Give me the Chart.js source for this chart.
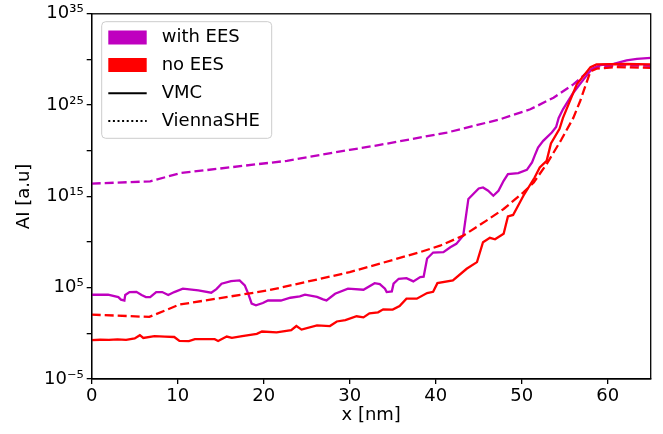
<!DOCTYPE html>
<html><head><meta charset="utf-8">
<script src="https://cdn.jsdelivr.net/npm/chart.js@4.4.1/dist/chart.umd.min.js"></script>
<style>html,body{margin:0;padding:0;background:#fff}#wrap{width:663px;height:434px;position:relative}</style>
</head><body><div id="wrap"><canvas id="c" width="663" height="434"></canvas></div>
<script>
// ---- data (y values are given as log10 exponents) ----
const xTicks = [0, 10, 20, 30, 40, 50, 60];
const yTicks = [1e-5, 1e0, 1e5, 1e10, 1e15, 1e20, 1e25, 1e30, 1e35];
const yTickLabels = ['10⁻⁵', '', '10⁵', '', '10¹⁵', '', '10²⁵', '', '10³⁵'];

const withVmcX = [0,1.9,3.1,3.4,3.8,3.9,4.4,5.2,5.8,6.3,6.8,7.5,8.2,8.9,9.6,10.6,12.4,13.9,14.5,15.1,16.2,17.2,17.8,18.2,18.6,19.1,19.9,20.5,22,23.1,24.2,24.8,26.2,26.9,27.3,28.3,29.8,31.6,32.9,33.5,34.1,34.3,34.9,35.1,35.7,36.6,37.4,38.2,38.6,39.0,39.7,40.9,41.7,42.4,43.2,43.8,45.0,45.5,46.1,46.7,47.3,47.9,48.4,49.6,50.6,51.2,51.5,51.9,52.5,53.5,54.0,54.3,54.8,56.0,57.2,58.1,59.1,60.7,62.2,63.4,65];
const withVmcLog = [4.23,4.23,3.97,3.69,3.6,4.2,4.52,4.55,4.2,3.97,3.97,4.52,4.52,4.2,4.52,4.89,4.7,4.45,4.85,5.44,5.72,5.8,5.25,4.34,3.25,3.07,3.32,3.61,3.6,3.9,4.05,4.23,4.0,3.72,3.61,4.34,4.89,4.78,5.5,5.4,4.89,4.52,4.6,5.44,5.98,6.05,5.69,6.16,6.2,8.2,8.85,8.89,9.43,9.8,10.71,14.72,15.87,15.98,15.62,15.07,15.62,16.71,17.44,17.55,17.91,18.71,19.44,20.35,21.08,22.0,22.6,23.6,24.54,26.35,27.82,28.9,29.38,29.52,29.89,30.07,30.17];

const withSheX = [0,6.8,10.3,22.7,30,33.5,41.3,47.5,51,53.7,56,58,59,62,65];
const withSheLog = [16.4,16.65,17.55,18.9,20.1,20.64,21.99,23.45,24.54,25.81,27.27,28.9,29.25,29.35,29.3];

const noVmcX = [0,1,2,3,4,5,5.6,6.0,7.3,8.5,9.6,10.2,11.3,12.0,14.3,14.7,15.7,16.3,17.5,19.2,19.8,21.5,23.2,23.8,24.4,26.2,27.7,28.5,29.5,30.8,31.6,32.3,33.3,33.9,35.0,35.8,36.6,37.8,39.0,39.7,40.2,42.0,43.6,44.8,45.5,46.3,46.9,47.9,48.4,49.0,50.2,51.5,52.1,52.9,53.4,54.4,54.8,56.4,58.0,58.7,62,65];
const noVmcLog = [-0.75,-0.7,-0.72,-0.65,-0.72,-0.55,-0.2,-0.5,-0.3,-0.35,-0.4,-0.83,-0.85,-0.64,-0.64,-0.83,-0.35,-0.5,-0.3,-0.05,0.2,0.1,0.34,0.8,0.41,0.88,0.8,1.3,1.45,1.87,1.75,2.2,2.3,2.63,2.6,3.0,3.8,3.8,4.41,4.55,5.5,5.8,7.07,7.8,9.98,10.46,10.3,10.9,12.8,12.97,15.07,17.07,18.17,18.9,20.8,22.4,23.6,27.27,29.16,29.45,29.5,29.45];

const noSheX = [0,6.7,10.2,20.5,30,38.2,40.5,43.2,45.9,47.9,50.2,51.4,52.9,54.6,56,56.8,58,58.7,61,65];
const noSheLog = [2.05,1.8,3.15,4.7,6.7,8.9,9.6,10.7,12.35,13.62,15.44,16.53,18.54,21.2,23.6,25.45,28.7,29.0,29.15,29.08];

const legendLabels = ['with EES', 'no EES', 'VMC', 'ViennaSHE'];
const colWith = '#bf00bf';
const colNo = '#ff0000';

const toPts = (xs, ls) => xs.map((x, i) => ({ x: x, y: Math.pow(10, ls[i]) }));
const FONT = 'DejaVu Sans';

const boxPlugin = {
  id: 'box',
  afterDraw(chart) {
    const { ctx, chartArea: a } = chart;
    ctx.save();
    ctx.strokeStyle = '#000';
    ctx.lineWidth = 1.3;
    ctx.strokeRect(a.left, a.top, a.right - a.left, a.bottom - a.top);
    // legend
    const lx = 101.7, ly = 21.7, lw = 170, lh = 116.6, r = 4;
    ctx.beginPath();
    ctx.roundRect(lx, ly, lw, lh, r);
    ctx.fillStyle = 'rgba(255,255,255,0.8)';
    ctx.fill();
    ctx.strokeStyle = '#cccccc';
    ctx.lineWidth = 1;
    ctx.stroke();
    const rows = [37.5, 65, 93.3, 121];
    ctx.fillStyle = colWith;
    ctx.fillRect(108.3, rows[0] - 7, 38.4, 14);
    ctx.fillStyle = colNo;
    ctx.fillRect(108.3, rows[1] - 7, 38.4, 14);
    ctx.strokeStyle = '#000';
    ctx.lineWidth = 2;
    ctx.beginPath(); ctx.moveTo(108.3, rows[2]); ctx.lineTo(146.7, rows[2]); ctx.stroke();
    ctx.setLineDash([2, 2.6]);
    ctx.beginPath(); ctx.moveTo(108.3, rows[3]); ctx.lineTo(146.7, rows[3]); ctx.stroke();
    ctx.setLineDash([]);
    ctx.fillStyle = '#000';
    ctx.font = '18px "' + FONT + '"';
    ctx.textBaseline = 'middle';
    ctx.textAlign = 'left';
    legendLabels.forEach((t, i) => ctx.fillText(t, 161.7, rows[i]));
    ctx.restore();
  }
};

const ds = (label, pts, color, dash) => ({
  label, data: pts, borderColor: color, backgroundColor: color,
  borderWidth: 2.3, borderDash: dash, pointRadius: 0, tension: 0, fill: false
});

new Chart(document.getElementById('c'), {
  type: 'line',
  data: {
    datasets: [
      ds('no EES ViennaSHE', toPts(noSheX, noSheLog), colNo, [9, 4]),
      ds('no EES VMC', toPts(noVmcX, noVmcLog), colNo, []),
      ds('with EES ViennaSHE', toPts(withSheX, withSheLog), colWith, [9, 4]),
      ds('with EES VMC', toPts(withVmcX, withVmcLog), colWith, [])
    ]
  },
  options: {
    responsive: false, animation: false, devicePixelRatio: 1,
    layout: { padding: { left: 0, right: 12.3, top: 12.5, bottom: 0 } },
    plugins: { legend: { display: false }, tooltip: { enabled: false } },
    scales: {
      x: {
        type: 'linear', min: 0, max: 65,
        afterBuildTicks: s => { s.ticks = xTicks.map(v => ({ value: v })); },
        afterFit: s => { s.height = 55; },
        ticks: { color: '#000', font: { size: 18, family: FONT }, padding: 2, maxRotation: 0, autoSkip: false },
        grid: { drawOnChartArea: false, tickLength: 5, color: '#000', tickColor: '#000', lineWidth: 1.3 },
        border: { color: '#000', width: 1.3 },
        title: { display: true, text: 'x [nm]', color: '#000', font: { size: 18, family: FONT }, padding: { top: 0, bottom: 8 } }
      },
      y: {
        type: 'logarithmic', min: 1e-5, max: 1e35,
        afterBuildTicks: s => { s.ticks = yTicks.map(v => ({ value: v })); },
        afterFit: s => { s.width = 91.7; },
        ticks: { color: '#000', font: { size: 18, family: FONT }, padding: 3, autoSkip: false,
          callback: (v, i) => yTickLabels[i] },
        grid: { drawOnChartArea: false, tickLength: 5, color: '#000', tickColor: '#000', lineWidth: 1.3 },
        border: { color: '#000', width: 1.3 },
        title: { display: true, text: 'AI [a.u]', color: '#000', font: { size: 18, family: FONT }, padding: { top: 14, bottom: 0 } }
      }
    }
  },
  plugins: [boxPlugin]
});
</script>
</body></html>
